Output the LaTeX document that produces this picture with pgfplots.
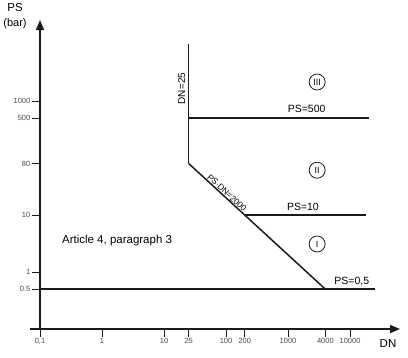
\documentclass[border=0pt]{standalone}
\usepackage{pgfplots}
\pgfplotsset{compat=1.18}
\usepackage{fontspec}
\setmainfont{Liberation Sans}
\usetikzlibrary{arrows.meta}
\definecolor{ink}{HTML}{1A1A1A}
\definecolor{tickgray}{HTML}{4A4A4A}
\begin{document}
\begin{tikzpicture}
\begin{axis}[
  scale only axis,
  width=360pt, height=309pt,
  xmode=log, ymode=log,
  xmin=0.1, xmax=64000,
  ymin=0.1, ymax=26300,
  axis lines=left,
  axis line style={line width=1.5pt, ink, -{Triangle[length=10pt,width=8pt]}},
  x axis line style={shorten <=-10pt},
  xtick={0.1,1,10,25,100,200,1000,4000,10000},
  xticklabels={0{,}1,1,10,25,100,200,1000,4000,10000},
  ytick={0.5,1,10,80,500,1000},
  yticklabels={0.5,1,10,80,500,1000},
  minor tick num=0,
  tick align=outside,
  major tick length=8pt,
  tick style={line width=0.9pt, ink},
  minor tick style={draw=none},
  xticklabel style={font=\fontsize{7.5}{8}\selectfont, text=tickgray, inner sep=1.5pt},
  yticklabel style={font=\fontsize{7.5}{8}\selectfont, text=tickgray, inner sep=1.5pt},
  /pgf/number format/assume math mode=true,
  clip=false,
]
\coordinate (sw) at (rel axis cs:0,0);
\coordinate (ne) at (rel axis cs:1,1);
% PS = 0.5
\addplot[ink, line width=1.5pt] coordinates {(0.1,0.5) (25000,0.5)};
% PS*DN = 2000
\addplot[ink, line width=1.5pt] coordinates {(4000,0.5) (25,80)};
% DN = 25
\addplot[ink, line width=1.5pt] coordinates {(25,80) (25,10000)};
% PS = 500
\addplot[ink, line width=1.5pt] coordinates {(25,500) (20000,500)};
% PS = 10
\addplot[ink, line width=1.5pt] coordinates {(200,10) (18000,10)};

\node[font=\fontsize{10.5}{11}\selectfont] at (axis cs:2000,720) {PS=500};
\node[font=\fontsize{10.5}{11}\selectfont] at (axis cs:1740,13.8) {PS=10};
\node[font=\fontsize{10.5}{11}\selectfont] at (axis cs:10700,0.67) {PS=0,5};
\node[font=\fontsize{10}{11}\selectfont, rotate=90, anchor=south] at (axis cs:25,1650) {DN=25};
\node[font=\fontsize{8.5}{9}\selectfont, rotate=-42.6, anchor=south, inner sep=1.2pt] at (axis cs:93,21.5) {PS$\cdot$DN=2000};
\node[font=\fontsize{11.5}{12}\selectfont] at (axis cs:1.75,3.5) {Article 4, paragraph 3};
\node[draw=ink, circle, line width=0.8pt, inner sep=0.5pt, minimum size=16pt, font=\fontsize{9}{10}\selectfont] at (axis cs:2950,2150) {III};
\node[draw=ink, circle, line width=0.8pt, inner sep=0.5pt, minimum size=16pt, font=\fontsize{9}{10}\selectfont] at (axis cs:2950,61) {II};
\node[draw=ink, circle, line width=0.8pt, inner sep=0.5pt, minimum size=16pt, font=\fontsize{9}{10}\selectfont] at (axis cs:2950,3.1) {I};
\end{axis}
\node[font=\fontsize{11.5}{12}\selectfont] at ([shift={(-25pt,321pt)}]sw) {PS};
\node[font=\fontsize{11}{12}\selectfont] at ([shift={(-25pt,305pt)}]sw) {(bar)};
\node[font=\fontsize{11.5}{12}\selectfont] at ([shift={(348pt,-15pt)}]sw) {DN};
\path[use as bounding box] ([shift={(-40pt,-28pt)}]sw) rectangle ([shift={(8pt,20pt)}]ne);
\end{tikzpicture}
\end{document}
